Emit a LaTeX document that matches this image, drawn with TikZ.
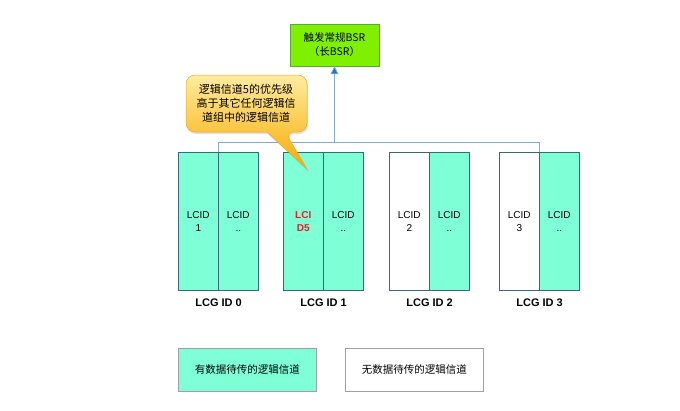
\documentclass[tikz,border=0pt]{standalone}
\usepackage{fontspec}
\setmainfont{Liberation Sans}
\newfontfamily\cjk{Noto Sans CJK SC}
\usetikzlibrary{arrows.meta,positioning,shadows}

\definecolor{aqua}{HTML}{7FFFD6}
\definecolor{boxline}{HTML}{3A6878}
\definecolor{bsrgreen}{HTML}{7FF000}
\definecolor{bsrline}{HTML}{5AA83A}
\definecolor{busblue}{HTML}{7FAADC}
\definecolor{tipblue}{HTML}{2A6FC4}
\definecolor{legline}{HTML}{A0A0A0}
\definecolor{hired}{HTML}{E61E28}

\newcommand{\hot}[1]{\textcolor{hired}{\textbf{#1}}}

\tikzset{
  chan/.style={draw=boxline,line width=.6pt,minimum width=40pt,minimum height=138pt,
    inner sep=0pt,anchor=north west,align=center,font=\fontsize{10}{13}\selectfont},
  busy/.style={chan,fill=aqua},
  idle/.style={chan,fill=white},
  lcg/.style={font=\fontsize{11}{13}\selectfont\bfseries},
  legend/.style={draw=legline,line width=.6pt,minimum width=138pt,minimum height=43pt,
    anchor=north west,font=\cjk\fontsize{10.5}{12}\selectfont},
  bus/.style={draw=busblue,line width=.8pt}
}

\begin{document}
\begin{tikzpicture}[x=1pt,y=-1pt]
\useasboundingbox (0,0) rectangle (680,410);
% top: regular BSR trigger
\node[draw=bsrline,fill=bsrgreen,minimum width=89pt,minimum height=42pt,align=center,
  font=\cjk\fontsize{10.5}{14}\selectfont] (bsr) at (334.5,45) {触发常规BSR\\（长BSR）};

% logical channel groups
\node[busy] (g0a) at (178,152) {LCID\\1};
\node[busy] (g1a) at (283,152) {\hot{LCI}\\\hot{D5}};
\node[idle] (g2a) at (389,152) {LCID\\2};
\node[idle] (g3a) at (499,152) {LCID\\3};
\foreach \n in {0,...,3}{
  \node[busy] (g\n b) at ([xshift=40pt]g\n a.north west) {LCID\\..};
  \node[lcg] (lcg\n) at (g\n a.east |- 0,303) {LCG ID \n};
}

% bus to BSR
\draw[bus] (g0a.north east) -- ++(0,-10) coordinate (busl) -| (g3a.north east);
\coordinate (tap) at (bsr.south |- busl);
\draw[bus,-{Triangle[length=8pt,width=8pt,fill=tipblue]}] (tap) -- (bsr.south);

% callout
\shade[top color={rgb,255:red,255;green,236;blue,160},bottom color={rgb,255:red,247;green,170;blue,0},
  draw={rgb,255:red,235;green,170;blue,40},line width=.5pt,drop shadow={opacity=.25,shadow xshift=1pt,shadow yshift=-2pt}]
  (246,75) [rounded corners=9pt] -- (307,75) -- (307,132) -- (285,132) [sharp corners] -- (307,169)
  -- (267,132) [rounded corners=9pt] -- (186,132) -- (186,75) -- cycle;
\node[align=center,font=\cjk\fontsize{11}{14}\selectfont] (note) at (246,103.5)
  {逻辑信道5的优先级\\高于其它任何逻辑信\\道组中的逻辑信道};

% legend
\node[legend,fill=aqua] (leg1) at (178,348) {有数据待传的逻辑信道};
\node[legend,fill=white] (leg2) at (345,348) {无数据待传的逻辑信道};
\end{tikzpicture}
\end{document}
